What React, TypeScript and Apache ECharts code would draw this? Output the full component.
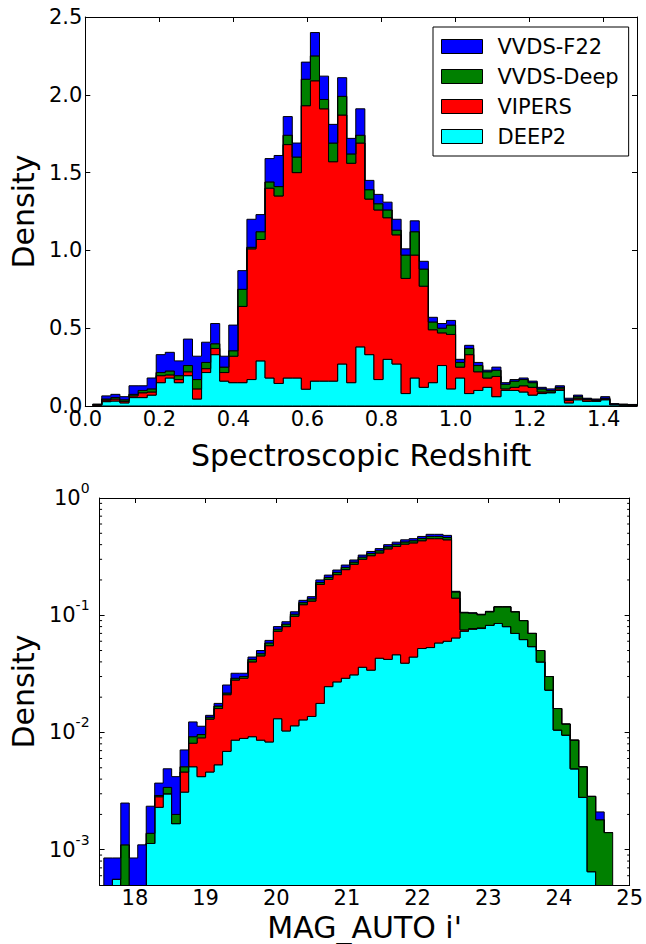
import React, { useEffect, useRef } from "react";
import * as echarts from "echarts";

const FONT = "DejaVu Sans";

// Stacking order, bottom layer first
const SURVEY_NAMES = ["DEEP2", "VIPERS", "VVDS-Deep", "VVDS-F22"];
const SURVEY_COLORS = ["#00ffff", "#ff0000", "#008000", "#0000ff"];
// Legend lists the top layer first
const LEGEND_NAMES = ["VVDS-F22", "VVDS-Deep", "VIPERS", "DEEP2"];

// ---- Spectroscopic redshift histogram: 60 bins, z = 0.02 .. 1.49 ----
const Z_FIRST_EDGE = 0.02;
const Z_BIN_WIDTH = 0.0245;
const Z_RANGE = [0, 1.49];
const Z_DENSITY_RANGE = [0, 2.5];
const Z_TICKS = [0, 0.2, 0.4, 0.6, 0.8, 1.0, 1.2, 1.4];

const Z_DEEP2 = [
  0.005, 0.028, 0.032, 0.02, 0.054, 0.054, 0.07, 0.15, 0.18, 0.15,
  0.195, 0.045, 0.215, 0.33, 0.16, 0.15, 0.15, 0.17, 0.29, 0.18,
  0.145, 0.18, 0.18, 0.108, 0.16, 0.16, 0.16, 0.27, 0.15, 0.38,
  0.33, 0.17, 0.3, 0.27, 0.08, 0.18, 0.12, 0.15, 0.26, 0.11,
  0.18, 0.08, 0.1, 0.12, 0.06, 0.1, 0.1, 0.09, 0.07, 0.08,
  0.085, 0.1, 0.02, 0.04, 0.03, 0.03, 0.04, 0.008, 0.006, 0.005,
];
const Z_VIPERS = [
  0.003, 0.01, 0.013, 0.01, 0.011, 0.031, 0.02, 0.045, 0.02, 0.02,
  0.025, 0.065, 0.025, 0.04, 0.055, 0.17, 0.49, 0.84, 0.78, 1.22,
  1.205, 1.5, 1.32, 1.822, 1.93, 1.75, 1.41, 1.6, 1.41, 1.31,
  1.0, 1.09, 0.91, 0.83, 0.74, 0.79, 0.65, 0.34, 0.21, 0.35,
  0.07, 0.25, 0.12, 0.06, 0.13, 0.01, 0.02, 0.04, 0.05, 0.01,
  0.005, 0.01, 0.015, 0.01, 0.01, 0.005, 0.005, 0.002, 0.002, 0.001,
];
const Z_VVDS_DEEP = [
  0.002, 0.007, 0.01, 0.01, 0.01, 0.015, 0.02, 0.02, 0.025, 0.025,
  0.04, 0.06, 0.04, 0.03, 0.035, 0.035, 0.11, 0.01, 0.05, 0.04,
  0.06, 0.06, 0.1, 0.17, 0.16, 0.06, 0.12, 0.12, 0.06, 0.05,
  0.06, 0.04, 0.05, 0.03, 0.15, 0.15, 0.11, 0.05, 0.03, 0.06,
  0.03, 0.04, 0.04, 0.04, 0.04, 0.03, 0.04, 0.04, 0.03, 0.02,
  0.01, 0.01, 0.005, 0.01, 0.005, 0.005, 0.005, 0.002, 0.002, 0.002,
];
const Z_VVDS_F22 = [
  0.002, 0.02, 0.02, 0.02, 0.055, 0.03, 0.07, 0.115, 0.12, 0.095,
  0.17, 0.15, 0.13, 0.13, 0.07, 0.165, 0.12, 0.18, 0.11, 0.15,
  0.2, 0.12, 0.09, 0.11, 0.15, 0.15, 0.12, 0.12, 0.1, 0.17,
  0.06, 0.06, 0.05, 0.07, 0.04, 0.07, 0.05, 0.03, 0.03, 0.03,
  0.02, 0.02, 0.02, 0.01, 0.02, 0.01, 0.01, 0.01, 0.01, 0.01,
  0.01, 0.01, 0.01, 0.01, 0.005, 0.005, 0.01, 0.003, 0.002, 0.002,
];

// ---- MAG_AUTO i' histogram: 60 bins, i' = 17.56 .. 24.76 ----
const MAG_FIRST_EDGE = 17.56;
const MAG_BIN_WIDTH = 0.12;
const MAG_RANGE = [17.5, 25];
const MAG_DENSITY_RANGE = [5e-4, 1];
const MAG_TICKS = [18, 19, 20, 21, 22, 23, 24, 25];

const MAG_DEEP2 = [
  0, 0.00056, 0, 0, 0, 0.00113, 0.0023, 0.003, 0.00167, 0.0031,
  0.0051, 0.0042, 0.0046, 0.0053, 0.0069, 0.0086, 0.0089, 0.0092, 0.0086, 0.0083,
  0.0131, 0.0103, 0.0114, 0.0128, 0.0137, 0.0177, 0.0246, 0.027, 0.029, 0.031,
  0.036, 0.034, 0.043, 0.042, 0.046, 0.039, 0.044, 0.052, 0.053, 0.058,
  0.06, 0.064, 0.073, 0.076, 0.077, 0.082, 0.085, 0.08, 0.07, 0.062,
  0.054, 0.04, 0.023, 0.0105, 0.0095, 0.0049, 0.0028, 0.00065, 0, 0,
];
const MAG_VIPERS = [
  0, 0, 0, 0, 0, 0, 0.00053, 0, 0, 0.0015,
  0.003, 0.0048, 0.0084, 0.0107, 0.0141, 0.0194, 0.0201, 0.0308, 0.0364, 0.0467,
  0.0599, 0.0697, 0.0866, 0.1102, 0.1183, 0.1653, 0.1774, 0.195, 0.216, 0.241,
  0.264, 0.288, 0.297, 0.326, 0.34, 0.365, 0.37, 0.38, 0.397, 0.392,
  0.38, 0.076, 0.002, 0.001, 0.001, 0, 0, 0, 0, 0,
  0, 0, 0, 0, 0, 0, 0, 0, 0, 0,
];
const MAG_VVDS_DEEP = [
  0, 0, 0.0011, 0, 0, 0.00025, 0.00007, 0.0004, 0.00033, 0.0005,
  0.0011, 0.0006, 0.0005, 0.0008, 0.0007, 0.001, 0.001, 0.002, 0.002, 0.003,
  0.003, 0.004, 0.004, 0.005, 0.006, 0.007, 0.008, 0.01, 0.011, 0.012,
  0.013, 0.014, 0.015, 0.016, 0.017, 0.018, 0.018, 0.019, 0.02, 0.02,
  0.02, 0.018, 0.03, 0.027, 0.023, 0.025, 0.033, 0.038, 0.037, 0.028,
  0.016, 0.01, 0.007, 0.0055, 0.0023, 0.0037, 0.0023, 0.0022, 0.0018, 0.0014,
];
const MAG_VVDS_F22 = [
  0.00085, 0.00029, 0.0014, 0.00085, 0.0011, 0.00097, 0.0008, 0.0015, 0.0022, 0.002,
  0.0031, 0.0017, 0.0005, 0.0009, 0.0037, 0.003, 0.002, 0.002, 0.003, 0.003,
  0.004, 0.004, 0.005, 0.006, 0.006, 0.01, 0.01, 0.011, 0.012, 0.012,
  0.013, 0.014, 0.015, 0.016, 0.017, 0.018, 0.018, 0.019, 0.02, 0.02,
  0.02, 0.002, 0.001, 0.001, 0.001, 0.001, 0, 0, 0, 0,
  0, 0, 0, 0, 0, 0, 0, 0, 0.0003, 0,
];

const binEdges = (first: number, width: number, count: number) =>
  Array.from({ length: count + 1 }, (_, i) => first + width * i);

// Cumulative lower/upper boundaries of each stacked layer
function stackLayers(layers: number[][]) {
  const n = layers[0].length;
  let running = new Array(n).fill(0);
  return layers.map((layer) => {
    const lower = running.slice();
    running = running.map((v: number, i: number) => v + layer[i]);
    return { lower, upper: running.slice() };
  });
}

// Closed step outline of one layer (matplotlib "stepfilled" style)
function stepPolygon(
  api: any,
  edges: number[],
  lower: number[],
  upper: number[],
  floor: number
) {
  const pt = (x: number, y: number) => api.coord([x, Math.max(y, floor)]);
  const n = upper.length;
  const pts: number[][] = [pt(edges[0], lower[0])];
  for (let i = 0; i < n; i++) {
    pts.push(pt(edges[i], upper[i]));
    pts.push(pt(edges[i + 1], upper[i]));
  }
  for (let i = n - 1; i >= 0; i--) {
    pts.push(pt(edges[i + 1], lower[i]));
    pts.push(pt(edges[i], lower[i]));
  }
  return pts;
}

function histogramSeries(
  layers: number[][],
  edges: number[],
  axisIndex: number,
  floor: number,
  anchorY: number
) {
  const stacked = stackLayers(layers);
  return stacked.map((layer, k) => ({
    type: "custom",
    name: SURVEY_NAMES[k],
    xAxisIndex: axisIndex,
    yAxisIndex: axisIndex,
    clip: true,
    silent: true,
    z: 2 + k,
    itemStyle: { color: SURVEY_COLORS[k] },
    encode: { x: 0, y: 1 },
    data: [[edges[0], anchorY]],
    renderItem: (_params: any, api: any) => ({
      type: "polygon",
      shape: { points: stepPolygon(api, edges, layer.lower, layer.upper, floor) },
      style: { fill: SURVEY_COLORS[k], stroke: "#000", lineWidth: 1 },
    }),
  }));
}

// Minor ticks (2..9 x 10^n) along both sides of the log panel
const LOG_MINOR_TICKS: number[] = [];
for (let d = -4; d < 0; d++) {
  for (let m = 2; m <= 9; m++) {
    const v = m * Math.pow(10, d);
    if (v > MAG_DENSITY_RANGE[0] && v < MAG_DENSITY_RANGE[1]) LOG_MINOR_TICKS.push(v);
  }
}

const axisLine = { show: true, onZero: false, lineStyle: { color: "#000", width: 1 } };
const majorTick = { show: true, inside: true, length: 5, lineStyle: { color: "#000", width: 1 } };
const tickFont = { fontFamily: FONT, fontSize: 21, color: "#000" };
const nameFont = { fontFamily: FONT, fontSize: 30, color: "#000" };

function buildOption() {
  const zEdges = binEdges(Z_FIRST_EDGE, Z_BIN_WIDTH, Z_DEEP2.length);
  const magEdges = binEdges(MAG_FIRST_EDGE, MAG_BIN_WIDTH, MAG_DEEP2.length);

  const zSeries = histogramSeries(
    [Z_DEEP2, Z_VIPERS, Z_VVDS_DEEP, Z_VVDS_F22],
    zEdges,
    0,
    -Infinity,
    0
  );
  const magSeries = histogramSeries(
    [MAG_DEEP2, MAG_VIPERS, MAG_VVDS_DEEP, MAG_VVDS_F22],
    magEdges,
    2,
    1e-7,
    1e-3
  );

  const minorTickSeries = {
    type: "custom",
    xAxisIndex: 2,
    yAxisIndex: 2,
    silent: true,
    z: 20,
    encode: { x: 0, y: 1 },
    data: LOG_MINOR_TICKS.map((v) => [MAG_RANGE[0], v]),
    renderItem: (_params: any, api: any) => {
      const v = api.value(1);
      const l = api.coord([MAG_RANGE[0], v]);
      const r = api.coord([MAG_RANGE[1], v]);
      const style = { stroke: "#000", lineWidth: 1 };
      return {
        type: "group",
        children: [
          { type: "line", shape: { x1: l[0], y1: l[1], x2: l[0] + 2.5, y2: l[1] }, style },
          { type: "line", shape: { x1: r[0] - 2.5, y1: r[1], x2: r[0], y2: r[1] }, style },
        ],
      };
    },
  };

  const logLabel = (v: number) => {
    const e = Math.log10(v);
    const r = Math.round(e);
    if (Math.abs(e - r) > 1e-6) return "";
    return `{b|10}{s|${r}}`;
  };

  const zAxisBase = {
    gridIndex: 0,
    type: "value",
    min: Z_RANGE[0],
    max: Z_RANGE[1],
    axisLine,
    axisTick: { ...majorTick, customValues: Z_TICKS },
    splitLine: { show: false },
  };
  const magAxisBase = {
    gridIndex: 1,
    type: "value",
    min: MAG_RANGE[0],
    max: MAG_RANGE[1],
    axisLine,
    axisTick: { ...majorTick, customValues: MAG_TICKS },
    splitLine: { show: false },
  };

  return {
    animation: false,
    backgroundColor: "#fff",
    grid: [
      { left: 80, top: 17, width: 557, height: 389 },
      { left: 97, top: 498, width: 535, height: 387 },
    ],
    legend: {
      orient: "vertical",
      left: 433,
      top: 27,
      padding: [9, 10, 9, 8],
      itemWidth: 41,
      itemHeight: 14,
      itemGap: 9,
      borderColor: "#000",
      borderWidth: 1,
      backgroundColor: "#fff",
      selectedMode: false,
      textStyle: { fontFamily: FONT, fontSize: 21, color: "#000", lineHeight: 21, padding: [0, 0, 0, 10] },
      data: LEGEND_NAMES.map((name) => ({
        name,
        icon: "rect",
        itemStyle: {
          color: SURVEY_COLORS[SURVEY_NAMES.indexOf(name)],
          borderColor: "#000",
          borderWidth: 1,
        },
      })),
    },
    xAxis: [
      {
        ...zAxisBase,
        position: "bottom",
        axisLabel: {
          ...tickFont,
          margin: 2,
          customValues: Z_TICKS,
          formatter: (v: number) => v.toFixed(1),
        },
        name: "Spectroscopic Redshift",
        nameLocation: "middle",
        nameGap: 34,
        nameTextStyle: nameFont,
      },
      { ...zAxisBase, position: "top", axisLabel: { show: false } },
      {
        ...magAxisBase,
        position: "bottom",
        axisLabel: {
          ...tickFont,
          margin: 2,
          customValues: MAG_TICKS,
          formatter: (v: number) => String(Math.round(v)),
        },
        name: "MAG_AUTO i'",
        nameLocation: "middle",
        nameGap: 27,
        nameTextStyle: nameFont,
      },
      { ...magAxisBase, position: "top", axisLabel: { show: false } },
    ],
    yAxis: [
      {
        gridIndex: 0,
        type: "value",
        position: "left",
        min: Z_DENSITY_RANGE[0],
        max: Z_DENSITY_RANGE[1],
        interval: 0.5,
        axisLine,
        axisTick: majorTick,
        splitLine: { show: false },
        axisLabel: { ...tickFont, margin: 3, formatter: (v: number) => v.toFixed(1) },
        name: "Density",
        nameLocation: "middle",
        nameGap: 42,
        nameTextStyle: nameFont,
      },
      {
        gridIndex: 0,
        type: "value",
        position: "right",
        min: Z_DENSITY_RANGE[0],
        max: Z_DENSITY_RANGE[1],
        interval: 0.5,
        axisLine,
        axisTick: majorTick,
        axisLabel: { show: false },
        splitLine: { show: false },
      },
      {
        gridIndex: 1,
        type: "log",
        logBase: 10,
        position: "left",
        min: MAG_DENSITY_RANGE[0],
        max: MAG_DENSITY_RANGE[1],
        axisLine,
        axisTick: majorTick,
        splitLine: { show: false },
        axisLabel: {
          margin: 10,
          formatter: logLabel,
          rich: {
            b: { fontFamily: FONT, fontSize: 21, color: "#000", lineHeight: 34 },
            s: { fontFamily: FONT, fontSize: 14, color: "#000", lineHeight: 14, verticalAlign: "top" },
          },
        },
        name: "Density",
        nameLocation: "middle",
        nameGap: 57,
        nameTextStyle: nameFont,
      },
      {
        gridIndex: 1,
        type: "log",
        logBase: 10,
        position: "right",
        min: MAG_DENSITY_RANGE[0],
        max: MAG_DENSITY_RANGE[1],
        axisLine,
        axisTick: majorTick,
        axisLabel: { show: false },
        splitLine: { show: false },
      },
    ],
    series: [...zSeries, ...magSeries, minorTickSeries],
  };
}

export default function App() {
  const ref = useRef<HTMLDivElement>(null);
  useEffect(() => {
    if (!ref.current) return;
    const chart = echarts.init(ref.current, undefined, { renderer: "svg" });
    chart.setOption(buildOption() as any);
    return () => chart.dispose();
  }, []);
  return (
    <div
      ref={ref}
      style={{ position: "absolute", left: 0, top: 0, width: 646, height: 944, background: "#fff" }}
    />
  );
}
